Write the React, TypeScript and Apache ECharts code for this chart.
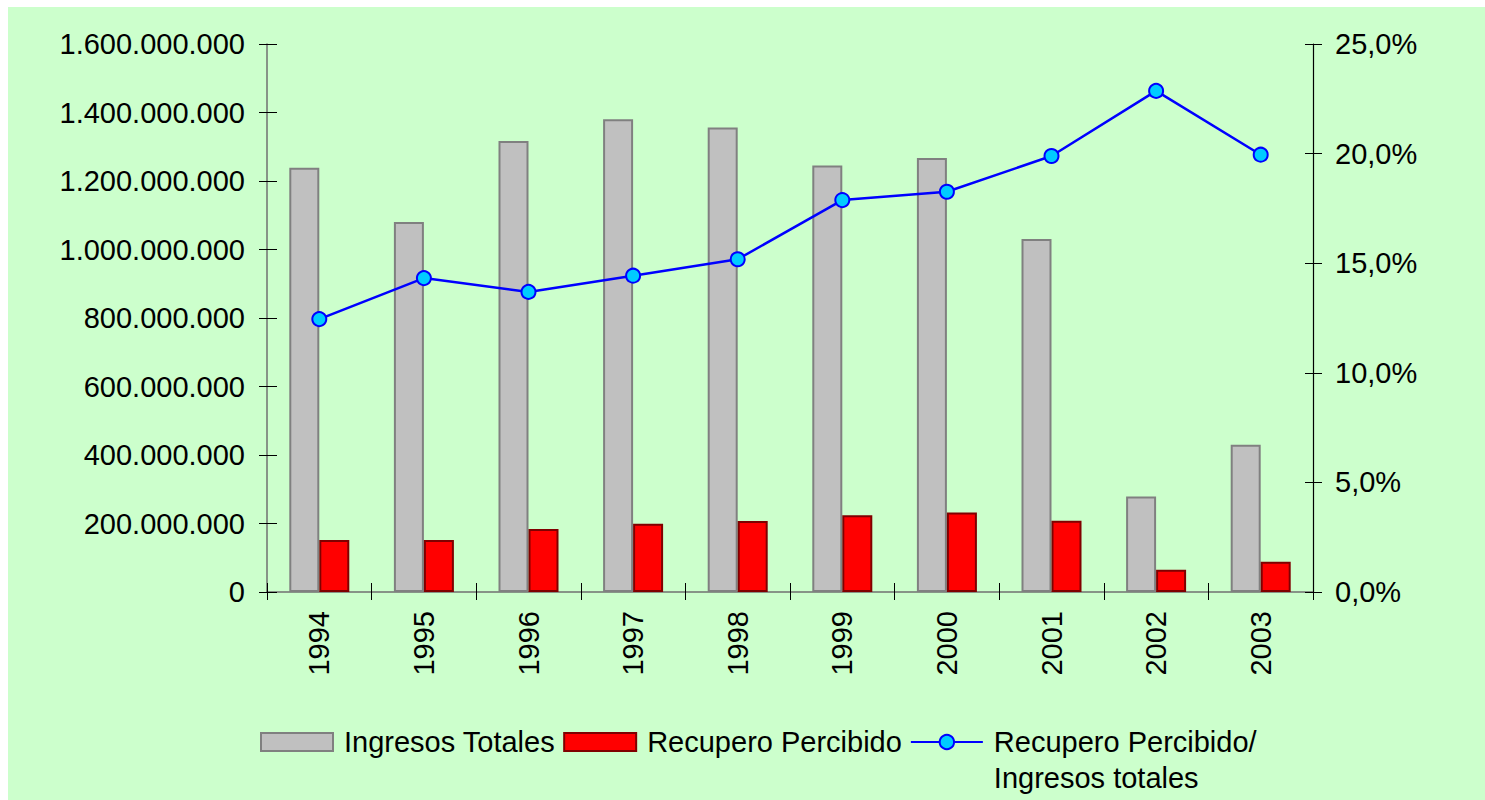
import React, { useEffect, useRef } from "react";
import * as echarts from "echarts";

const years = ["1994", "1995", "1996", "1997", "1998", "1999", "2000", "2001", "2002", "2003"];
const ingresosTotales = [1239e6, 1080e6, 1317e6, 1380e6, 1356e6, 1245e6, 1267e6, 1031e6, 279e6, 430e6];
const recuperoPercibido = [152e6, 152e6, 184e6, 199e6, 207e6, 224e6, 232e6, 208e6, 65e6, 88e6];
const ratioPct = [12.45, 14.32, 13.69, 14.43, 15.18, 17.88, 18.26, 19.89, 22.86, 19.95];

const seriesNames = ["Ingresos Totales", "Recupero Percibido", "Recupero Percibido/\nIngresos totales"];

const leftMax = 1600000000;
const leftInterval = 200000000;
const rightMax = 25;
const rightInterval = 5;

const FONT = "'Liberation Sans', Arial, sans-serif";

const fmtThousands = (v: number) =>
  Math.round(v)
    .toString()
    .replace(/\B(?=(\d{3})+(?!\d))/g, ".");
const fmtPct = (v: number) => v.toFixed(1).replace(".", ",") + "%";

export default function App() {
  const ref = useRef<HTMLDivElement>(null);
  useEffect(() => {
    document.documentElement.style.overflow = "hidden";
    const chart = echarts.init(ref.current!, null, { renderer: "svg" });
    const labelStyle = { color: "#000", fontFamily: FONT, fontSize: 29 };
    chart.setOption({
      animation: false,
      backgroundColor: "#CCFFCC",
      textStyle: { fontFamily: FONT },
      grid: { left: 259, right: 172, top: 37, bottom: 208, containLabel: false },
      legend: {
        left: 252,
        top: 681,
        padding: 0,
        itemWidth: 72,
        itemHeight: 18,
        itemGap: 8,
        textStyle: { ...labelStyle, lineHeight: 36, padding: [0, 0, 0, 6] },
        formatter: (name: string) => (name === seriesNames[2] ? "\n" + name : name),
        data: [
          { name: seriesNames[0], icon: "rect" },
          { name: seriesNames[1], icon: "rect" },
          { name: seriesNames[2] },
        ],
      },
      xAxis: [
        {
          type: "category",
          data: years,
          position: "bottom",
          axisLine: { show: true, lineStyle: { color: "#707070", width: 1.5 } },
          axisTick: { show: true, inside: false, length: 8, lineStyle: { color: "#000", width: 1 } },
          axisLabel: { ...labelStyle, rotate: 90, margin: 19 },
          splitLine: { show: false },
        },
        {
          type: "category",
          data: years,
          position: "bottom",
          axisLine: { show: false },
          axisTick: { show: true, inside: true, length: 9, lineStyle: { color: "#000", width: 1 } },
          axisLabel: { show: false },
          splitLine: { show: false },
        },
      ],
      yAxis: [
        {
          type: "value",
          position: "left",
          min: 0,
          max: leftMax,
          interval: leftInterval,
          axisLine: { show: true, lineStyle: { color: "#707070", width: 1.5 } },
          axisTick: { show: true, inside: false, length: 8, lineStyle: { color: "#000", width: 1 } },
          axisLabel: { ...labelStyle, margin: 22, formatter: (v: number) => fmtThousands(v) },
          splitLine: { show: false },
        },
        {
          type: "value",
          position: "right",
          min: 0,
          max: rightMax,
          interval: rightInterval,
          axisLine: { show: true, lineStyle: { color: "#000", width: 1.2 } },
          axisTick: { show: true, inside: false, length: 9, lineStyle: { color: "#000", width: 1 } },
          axisLabel: { ...labelStyle, margin: 22, formatter: (v: number) => fmtPct(v) },
          splitLine: { show: false },
        },
        {
          type: "value",
          position: "left",
          min: 0,
          max: leftMax,
          interval: leftInterval,
          axisLine: { show: false },
          axisTick: { show: true, inside: true, length: 10, lineStyle: { color: "#000", width: 1 } },
          axisLabel: { show: false },
          splitLine: { show: false },
        },
        {
          type: "value",
          position: "right",
          min: 0,
          max: rightMax,
          interval: rightInterval,
          axisLine: { show: false },
          axisTick: { show: true, inside: true, length: 8, lineStyle: { color: "#000", width: 1 } },
          axisLabel: { show: false },
          splitLine: { show: false },
        },
      ],
      series: [
        {
          name: seriesNames[0],
          type: "bar",
          xAxisIndex: 0,
          yAxisIndex: 0,
          data: ingresosTotales,
          barWidth: 30,
          barGap: "0%",
          itemStyle: { color: "#C0C0C0", borderColor: "#808080", borderWidth: 2 },
        },
        {
          name: seriesNames[1],
          type: "bar",
          xAxisIndex: 0,
          yAxisIndex: 0,
          data: recuperoPercibido,
          barWidth: 30,
          barGap: "0%",
          itemStyle: { color: "#FF0000", borderColor: "#800000", borderWidth: 2 },
        },
        {
          name: seriesNames[2],
          type: "line",
          xAxisIndex: 0,
          yAxisIndex: 1,
          data: ratioPct,
          symbol: "circle",
          symbolSize: 14,
          lineStyle: { color: "#0000FF", width: 2.5 },
          itemStyle: { color: "#00CCFF", borderColor: "#0000FF", borderWidth: 2 },
          z: 5,
        },
      ],
    });
    return () => chart.dispose();
  }, []);
  return (
    <div
      ref={ref}
      style={{ position: "absolute", left: 8, top: 7, width: 1477, height: 793 }}
    />
  );
}
